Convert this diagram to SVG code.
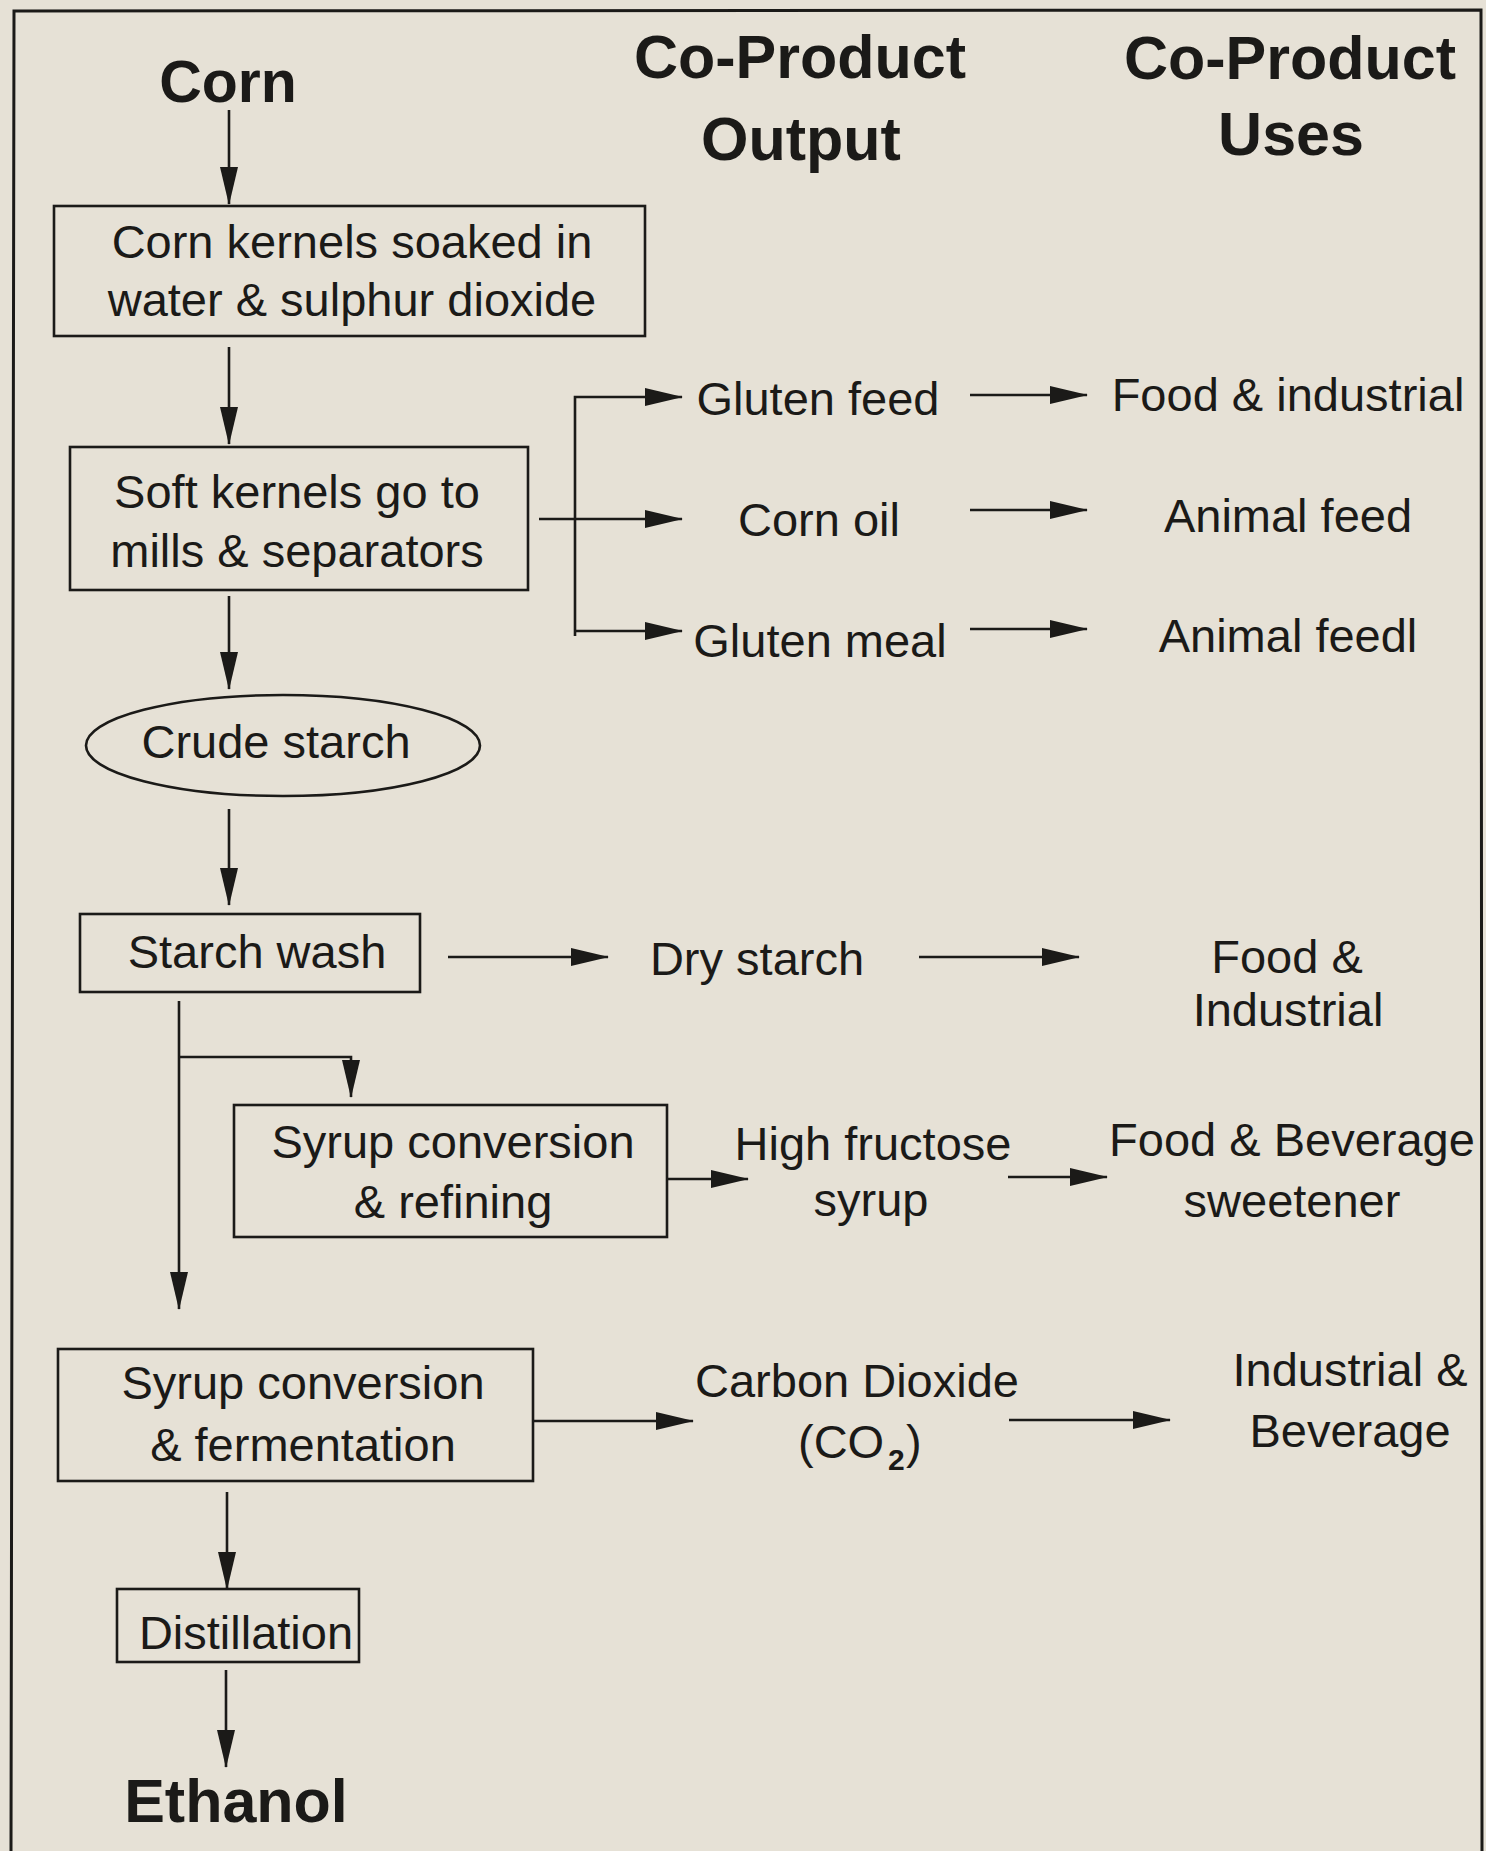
<svg xmlns="http://www.w3.org/2000/svg" width="1486" height="1851" viewBox="0 0 1486 1851">
<style>
text{font-family:"Liberation Sans",Arial,sans-serif;fill:#1b1a18}
.t{font-size:47px;text-anchor:middle}
.h{font-size:61px;font-weight:bold;text-anchor:middle}
.box{fill:none;stroke:#1b1a18;stroke-width:2.6}
.c{fill:none;stroke:#1b1a18;stroke-width:2.6}
.a{marker-end:url(#ah)}
</style>
<defs>
<marker id="ah" markerUnits="userSpaceOnUse" markerWidth="38" markerHeight="18" viewBox="0 0 38 18" refX="37" refY="9" orient="auto">
<path d="M0,0 L38,9 L0,18 z" fill="#1b1a18"/>
</marker>
</defs>
<rect x="0" y="0" width="1486" height="1851" fill="#e6e1d6"/>
<path d="M11,1851 L14,11 L1481,10 L1482,1851" fill="none" stroke="#1b1a18" stroke-width="3"/>

<g id="headers">
<text class="h" x="800" y="78">Co-Product</text>
<text class="h" x="801" y="160">Output</text>
<text class="h" x="1290" y="79">Co-Product</text>
<text class="h" x="1291" y="155">Uses</text>
</g>

<g id="corn"><text class="h" x="228" y="102" style="font-size:59px">Corn</text></g>
<g id="soak">
<rect class="box" x="54" y="206" width="591" height="130"/>
<text class="t" x="352" y="258">Corn kernels soaked in</text>
<text class="t" x="352" y="316">water &amp; sulphur dioxide</text>
</g>
<g id="mills">
<rect class="box" x="70" y="447" width="458" height="143"/>
<text class="t" x="297" y="508">Soft kernels go to</text>
<text class="t" x="297" y="567">mills &amp; separators</text>
</g>
<g id="crude">
<ellipse class="box" cx="283" cy="745.5" rx="197" ry="50.5"/>
<text class="t" x="276" y="758">Crude starch</text>
</g>
<g id="wash">
<rect class="box" x="80" y="914" width="340" height="78"/>
<text class="t" x="257" y="968">Starch wash</text>
</g>
<g id="refining">
<rect class="box" x="234" y="1105" width="433" height="132"/>
<text class="t" x="453" y="1158">Syrup conversion</text>
<text class="t" x="453" y="1218">&amp; refining</text>
</g>
<g id="fermentation">
<rect class="box" x="58" y="1349" width="475" height="132"/>
<text class="t" x="303" y="1399">Syrup conversion</text>
<text class="t" x="303" y="1461">&amp; fermentation</text>
</g>
<g id="distillation">
<rect class="box" x="117" y="1589" width="242" height="73"/>
<text class="t" x="246" y="1649">Distillation</text>
</g>
<g id="ethanol"><text class="h" x="236" y="1822">Ethanol</text></g>

<g id="gluten-feed"><text class="t" x="818" y="415">Gluten feed</text></g>
<g id="corn-oil"><text class="t" x="819" y="536">Corn oil</text></g>
<g id="gluten-meal"><text class="t" x="820" y="657">Gluten meal</text></g>
<g id="dry-starch"><text class="t" x="757" y="975">Dry starch</text></g>
<g id="hfs">
<text class="t" x="873" y="1160">High fructose</text>
<text class="t" x="871" y="1216">syrup</text>
</g>
<g id="co2">
<text class="t" x="857" y="1397">Carbon Dioxide</text>
<text class="t" x="798" y="1458" style="text-anchor:start">(CO</text>
<text x="888" y="1470" style="font-size:30px;font-weight:bold">2</text>
<text class="t" x="906" y="1458" style="text-anchor:start">)</text>
</g>

<g id="use-food-industrial"><text class="t" x="1288" y="411">Food &amp; industrial</text></g>
<g id="use-animal-feed"><text class="t" x="1288" y="532">Animal feed</text></g>
<g id="use-animal-feedl"><text class="t" x="1288" y="652">Animal feedl</text></g>
<g id="use-food-industrial2">
<text class="t" x="1287" y="973">Food &amp;</text>
<text class="t" x="1288" y="1026">Industrial</text>
</g>
<g id="use-sweetener">
<text class="t" x="1292" y="1156">Food &amp; Beverage</text>
<text class="t" x="1292" y="1217">sweetener</text>
</g>
<g id="use-industrial-beverage">
<text class="t" x="1350" y="1386">Industrial &amp;</text>
<text class="t" x="1350" y="1447">Beverage</text>
</g>

<g id="connectors">
<path class="c a" d="M229,110 V204"/>
<path class="c a" d="M229,347 V444"/>
<path class="c a" d="M229,596 V689"/>
<path class="c a" d="M229,809 V905"/>
<path class="c a" d="M539,519 H682"/>
<path class="c a" d="M575,636 V397 H682"/>
<path class="c a" d="M575,631 H682"/>
<path class="c a" d="M970,395 H1087"/>
<path class="c a" d="M970,510 H1087"/>
<path class="c a" d="M970,629 H1087"/>
<path class="c a" d="M448,957 H608"/>
<path class="c a" d="M919,957 H1079"/>
<path class="c a" d="M179,1001 V1309"/>
<path class="c a" d="M179,1057 H351 V1097"/>
<path class="c a" d="M667,1179 H748"/>
<path class="c a" d="M1008,1177 H1107"/>
<path class="c a" d="M533,1421 H693"/>
<path class="c a" d="M1009,1420 H1170"/>
<path class="c a" d="M227,1492 V1589"/>
<path class="c a" d="M226,1670 V1767"/>
</g>
</svg>
